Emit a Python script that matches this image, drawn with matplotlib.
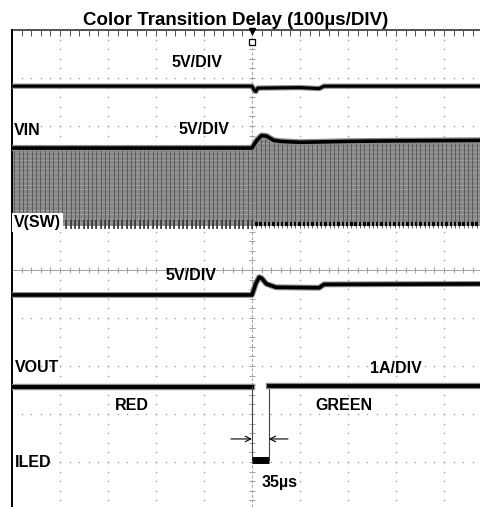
import numpy as np
import matplotlib.pyplot as plt

# scope capture: time in us (100us/div, trigger at 0), amplitude in divisions
top_t = [-500, 0, 5, 8, 12, 100, 140, 150, 475]
top_v = [3.83, 3.83, 3.74, 3.72, 3.79, 3.80, 3.78, 3.83, 3.83]

vin_t = [-500, 0, 10, 20, 30, 45, 60, 100, 200, 300, 475]
vin_v = [2.54, 2.54, 2.70, 2.80, 2.79, 2.70, 2.68, 2.66, 2.68, 2.69, 2.70]
sw_low = 0.92
sw_period = 9

vout_t = [-500, 0, 8, 15, 20, 30, 50, 140, 150, 475]
vout_v = [-0.52, -0.52, -0.28, -0.15, -0.17, -0.29, -0.36, -0.37, -0.30, -0.29]

iled_t = [-500, 0, 0, 35, 35, 475]
iled_v = [-2.44, -2.44, -3.96, -3.96, -2.42, -2.42]

labels = [("5V/DIV", -167, 4.23), ("VIN", -496, 2.81), ("5V/DIV", -154, 2.83),
          ("5V/DIV", -181, -0.21), ("VOUT", -494, -2.125), ("1A/DIV", 246, -2.146),
          ("RED", -285, -2.92), ("GREEN", 131, -2.92), ("ILED", -494, -4.10),
          ("35\u00b5s", 19, -4.52)]

plt.rcParams['font.family'] = ['Liberation Sans', 'DejaVu Sans']
plt.rcParams['hatch.linewidth'] = 0.6
fig = plt.figure(figsize=(4.8, 5.07), dpi=100)
ax = fig.add_axes([12 / 480, 0, 468 / 480, 477 / 507])
ax.set_xlim(-500, 475)
ax.set_ylim(-4.9375, 5.0)
ax.axis('off')

# graticule
grid_c = '#a0a0a0'
ys = np.arange(-4.8, 5.0, 0.2)
xs = np.arange(-480, 476, 20)
for gx in range(-400, 500, 100):
    if gx != 0:
        ax.plot(np.full_like(ys, gx), ys, ls='none', marker='s', ms=1.0, mew=0, color=grid_c)
for gy in range(-4, 5):
    if gy != 0:
        ax.plot(xs, np.full_like(xs, gy, dtype=float), ls='none', marker='s', ms=1.0, mew=0, color=grid_c)
ax.axhline(0, color=grid_c, lw=0.7)
ax.vlines(xs, -0.07, 0.07, color=grid_c, lw=0.7)
ax.axvline(0, color=grid_c, lw=0.7, ls=(0, (3, 2)))
ax.hlines(ys, -6, 6, color=grid_c, lw=0.7)
ax.plot([-500, 475], [5.0, 5.0], color='#333333', lw=1.2, clip_on=False)
ax.vlines(xs, 4.88, 5.0, color='#555555', lw=0.7)
ax.plot([-500, -500], [-4.94, 5.0], color='black', lw=1.4, clip_on=False)
ax.plot([0], [4.97], marker='v', ms=5, color='black', clip_on=False)
ax.plot([0], [4.75], marker='s', ms=4.5, mfc='white', mec='black', mew=0.9)

# switching node band
t = np.linspace(-500, 475, 2000)
vin_line = np.interp(t, vin_t, vin_v)
ax.fill_between(t, sw_low, vin_line, facecolor='#868686', edgecolor='#a8a8a8',
                hatch='----', lw=0)
pulses = np.arange(-495, 475, sw_period)
top_p = np.interp(pulses, vin_t, vin_v)
ax.vlines(pulses, sw_low - 0.05, top_p, color='#5c5c5c', lw=0.7)
before = pulses[pulses <= 0]
after = pulses[pulses > 0]
ax.vlines(before, sw_low - 0.06, sw_low + 0.12, color='#333333', lw=1.1)
ax.hlines(np.full(after.shape, sw_low + 0.04), after - 2.5, after + 2.5, color='black', lw=3)
ax.plot(vin_t, vin_v, color='#8a8a8a', lw=4.5)
ax.plot(vin_t, vin_v, color='black', lw=2.6)

# other traces
for tt, vv, w in [(top_t, top_v, 2.2), (vout_t, vout_v, 2.6)]:
    ax.plot(tt, vv, color='#8a8a8a', lw=w + 1.6)
    ax.plot(tt, vv, color='black', lw=w)

for i in range(len(iled_t) - 1):
    seg_t = iled_t[i:i + 2]
    seg_v = iled_v[i:i + 2]
    if seg_t[0] == seg_t[1]:
        ax.plot(seg_t, seg_v, color='#444444', lw=0.8)
    elif seg_v[0] < -3:
        ax.plot(seg_t, seg_v, color='black', lw=5, solid_capstyle='butt')
    else:
        ax.plot(seg_t, seg_v, color='#8a8a8a', lw=4.6)
        ax.plot(seg_t, seg_v, color='black', lw=2.8)

# 35us arrows
arr = dict(arrowstyle='->', color='black', lw=0.8, shrinkA=0, shrinkB=0)
ax.annotate('', xy=(0, -3.52), xytext=(-44, -3.52), arrowprops=arr)
ax.annotate('', xy=(35, -3.52), xytext=(75, -3.52), arrowprops=arr)

for txt, x, y in labels:
    ax.text(x, y, txt, fontsize=11.5, fontweight='bold', va='baseline', ha='left')
ax.text(-496, 0.90, "V(SW)", fontsize=11.5, fontweight='bold', va='baseline', ha='left',
        bbox=dict(facecolor='white', edgecolor='none', pad=1.5))

fig.text(236 / 480, 1 - 25 / 507, "Color Transition Delay (100\u00b5s/DIV)",
         ha='center', va='baseline', fontsize=13.5, fontweight='bold')

fig.savefig('out.png', dpi=100, facecolor='white')
